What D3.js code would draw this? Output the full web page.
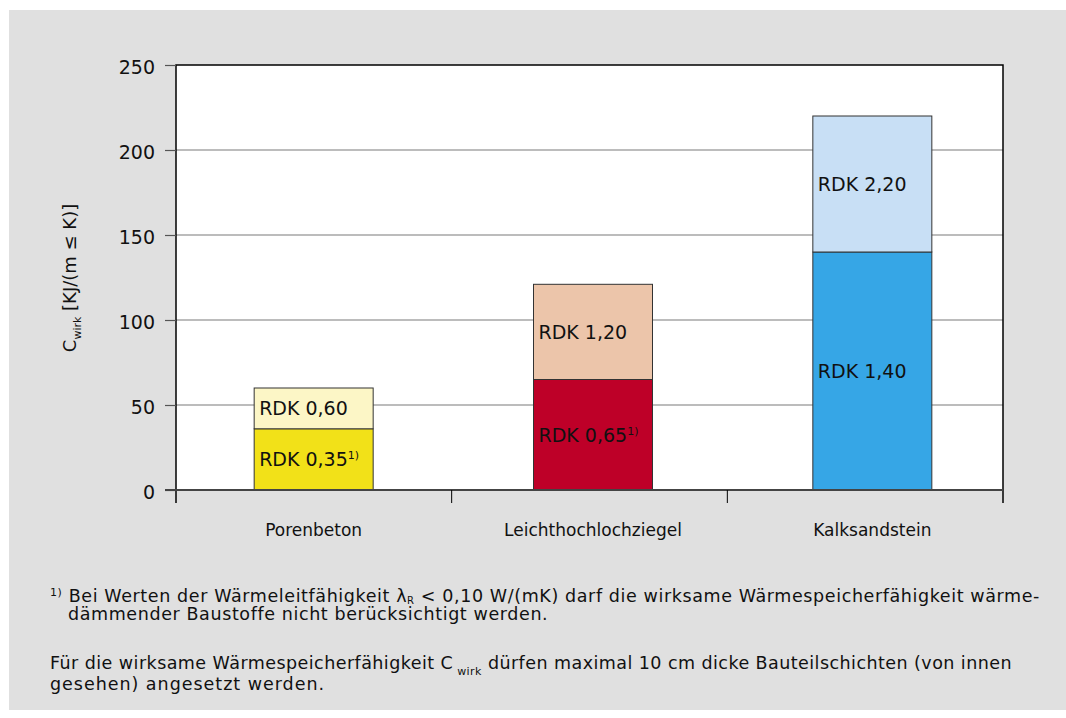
<!DOCTYPE html>
<html>
<head>
<meta charset="utf-8">
<script src="https://cdn.jsdelivr.net/npm/d3@7"></script>
<style>
  html, body { margin: 0; padding: 0; background: #ffffff; }
  svg { display: block; }
  text { font-family: "DejaVu Sans", sans-serif; fill: #111; }
</style>
</head>
<body>
<svg id="chart" width="1066" height="718"></svg>
<script>
// Wall materials and their effective heat storage (stacked by bulk density class)
const categories = ["Porenbeton", "Leichthochlochziegel", "Kalksandstein"];
const lowerValues = [36, 65, 140];
const totalValues = [60, 121, 220];
const lowerLabels = ["RDK 0,35", "RDK 0,65", "RDK 1,40"];
const upperLabels = ["RDK 0,60", "RDK 1,20", "RDK 2,20"];
const lowerNote = [true, true, false];
const lowerColors = ["#f2e118", "#be0028", "#36a6e6"];
const upperColors = ["#fcf6c6", "#ecc5aa", "#c8dff5"];
const yTicks = [0, 50, 100, 150, 200, 250];

const svg = d3.select("#chart");

// panel background
svg.append("rect").attr("x", 9).attr("y", 10).attr("width", 1057).attr("height", 700)
  .attr("fill", "#e0e0e0");

const pLeft = 176, pRight = 1003, pTop = 65, pBottom = 490;

// bar placement scale and category-boundary scale
const x = d3.scaleBand().domain(categories).range([174, 1012]).paddingInner(0).paddingOuter(0);
const xb = d3.scaleLinear().domain([0, categories.length]).range([pLeft, pRight]);
const y = d3.scaleLinear().domain([0, 250]).range([pBottom, pTop]);

// plot area
svg.append("rect").attr("x", pLeft).attr("y", pTop).attr("width", pRight - pLeft).attr("height", pBottom - pTop)
  .attr("fill", "#ffffff");

// gridlines
svg.append("g").selectAll("line").data(yTicks.filter(d => d > 0 && d < 250)).join("line")
  .attr("x1", pLeft).attr("x2", pRight)
  .attr("y1", d => y(d)).attr("y2", d => y(d))
  .attr("stroke", "#7a7a7a").attr("stroke-width", 1.2);

// bars
const barW = 119;
const rows = categories.map((c, i) => ({ c, i, lo: lowerValues[i], hi: totalValues[i] }));
const bx = d => x(d.c) + x.bandwidth() / 2 - barW / 2;
const bars = svg.append("g");
bars.selectAll("rect.lower").data(rows).join("rect")
  .attr("class", "lower")
  .attr("x", bx).attr("width", barW)
  .attr("y", d => y(d.lo)).attr("height", d => y(0) - y(d.lo))
  .attr("fill", d => lowerColors[d.i]).attr("stroke", "#333").attr("stroke-width", 1);
bars.selectAll("rect.upper").data(rows).join("rect")
  .attr("class", "upper")
  .attr("x", bx).attr("width", barW)
  .attr("y", d => y(d.hi)).attr("height", d => y(d.lo) - y(d.hi))
  .attr("fill", d => upperColors[d.i]).attr("stroke", "#333").attr("stroke-width", 1);

// segment labels
const lab = svg.append("g").attr("font-size", 19);
rows.forEach(d => {
  const lx = bx(d) + 5;
  lab.append("text").attr("x", lx).attr("y", (y(d.hi) + y(d.lo)) / 2)
    .attr("dominant-baseline", "central").text(upperLabels[d.i]);
  const t2 = lab.append("text").attr("x", lx).attr("y", (y(d.lo) + y(0)) / 2)
    .attr("dominant-baseline", "central").text(lowerLabels[d.i]);
  if (lowerNote[d.i]) {
    t2.append("tspan").attr("font-size", 11).attr("dy", -4).text("1)");
  }
});

// frame: top, left and right
svg.append("path")
  .attr("d", `M${pLeft},${pBottom + 13}V${pTop}H${pRight}V${pBottom + 13}`)
  .attr("fill", "none").attr("stroke", "#000").attr("stroke-width", 1.5);

// y axis ticks and labels
const yAxis = svg.append("g").attr("transform", `translate(${pLeft},0)`)
  .call(d3.axisLeft(y).tickValues(yTicks).tickSize(11).tickPadding(10).tickFormat(d3.format("d")));
yAxis.select(".domain").remove();
yAxis.selectAll(".tick line").attr("stroke", "#555").attr("stroke-width", 1.2);
yAxis.selectAll(".tick text").attr("font-size", 19).attr("font-family", "DejaVu Sans, sans-serif")
  .attr("fill", "#111").attr("dy", "0.45em");

// baseline
svg.append("line").attr("x1", pLeft - 11).attr("x2", pRight).attr("y1", pBottom).attr("y2", pBottom)
  .attr("stroke", "#444").attr("stroke-width", 2);

// category boundary ticks
svg.append("g").selectAll("line").data([1, 2]).join("line")
  .attr("x1", d => xb(d)).attr("x2", d => xb(d)).attr("y1", pBottom).attr("y2", pBottom + 13)
  .attr("stroke", "#000").attr("stroke-width", 1);

// category labels
svg.append("g").selectAll("text").data(categories).join("text")
  .attr("x", d => x(d) + x.bandwidth() / 2).attr("y", 536)
  .attr("text-anchor", "middle").attr("font-size", 17).text(d => d);

// y axis title
const yt = svg.append("text").attr("transform", "translate(76,278) rotate(-90)")
  .attr("text-anchor", "middle").attr("font-size", 18);
yt.append("tspan").text("C");
yt.append("tspan").attr("font-size", 11).attr("dy", 5).text("wirk");
yt.append("tspan").attr("dy", -5).text(" [KJ/(m ≤ K)]");

// footnotes
const fn = svg.append("g").attr("font-size", 17.5);
const l1 = fn.append("text").attr("x", 50).attr("y", 602);
l1.append("tspan").attr("font-size", 11).attr("dy", -6).text("1)");
l1.append("tspan").attr("dy", 6).text(" Bei Werten der Wärmeleitfähigkeit λ");
l1.append("tspan").attr("font-size", 10).attr("dy", 2).text("R");
l1.append("tspan").attr("dy", -2).text(" < 0,10 W/(mK) darf die wirksame Wärmespeicherfähigkeit wärme-");
const l2 = fn.append("text").attr("x", 68).attr("y", 620).text("dämmender Baustoffe nicht berücksichtigt werden.");
const l3 = fn.append("text").attr("x", 50).attr("y", 669);
l3.append("tspan").text("Für die wirksame Wärmespeicherfähigkeit C");
l3.append("tspan").attr("font-size", 11).attr("dy", 6).text(" wirk");
l3.append("tspan").attr("dy", -6).text(" dürfen maximal 10 cm dicke Bauteilschichten (von innen");
const l4 = fn.append("text").attr("x", 50).attr("y", 690).text("gesehen) angesetzt werden.");

// widen footnote lines to their set measure with letter spacing
function fitTo(sel, rightEdge) {
  const node = sel.node();
  const box = node.getBBox();
  const n = node.textContent.length;
  const ls = (rightEdge - (box.x + box.width)) / n;
  sel.attr("letter-spacing", ls.toFixed(3));
}
fitTo(l1, 1040);
fitTo(l2, 548);
fitTo(l3, 1012);
fitTo(l4, 325);
</script>
</body>
</html>
